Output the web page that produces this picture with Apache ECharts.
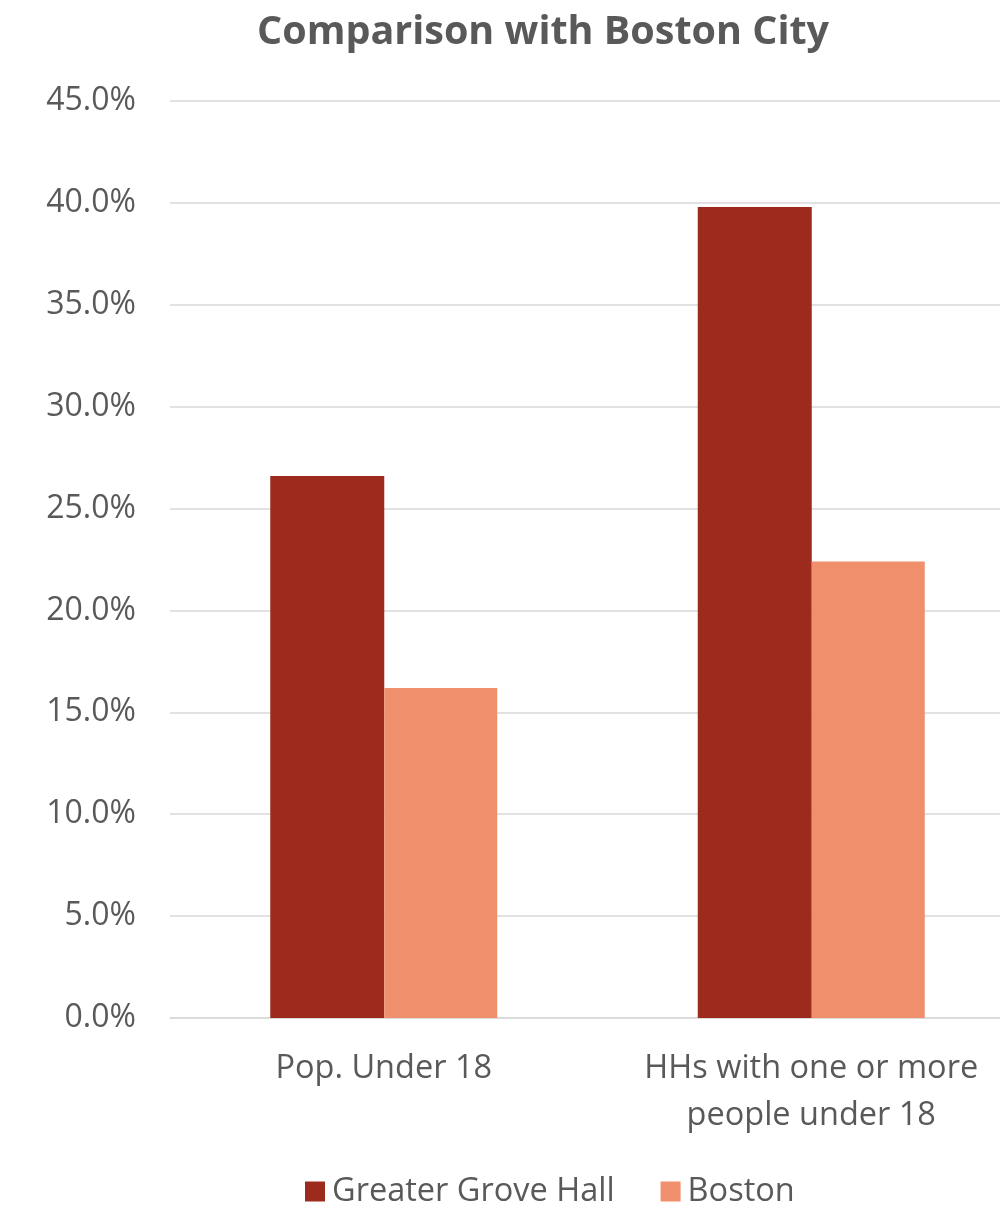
<!DOCTYPE html>
<html>
<head>
<meta charset="utf-8">
<script src="https://cdn.jsdelivr.net/npm/echarts@6/dist/echarts.min.js"></script>
<style>
  html, body { margin: 0; padding: 0; background: #ffffff; }
  #chart { width: 1000px; height: 1208px; }
</style>
</head>
<body>
<div id="chart"></div>
<script>
// Share of population / households with children
const categories = ['Pop. Under 18', 'HHs with one or more\npeople under 18'];
const groveHall = [26.6, 39.8];
const boston = [16.2, 22.4];
const yTicks = { min: 0, max: 45, interval: 5 };

const FONT = '"Open Sans", "DejaVu Sans", sans-serif';
const TEXT = '#595959';

const chart = echarts.init(document.getElementById('chart'));
chart.setOption({
  backgroundColor: '#ffffff',
  animation: false,
  title: {
    text: 'Comparison with Boston City',
    left: 252,
    top: 8,
    textStyle: { fontFamily: FONT, fontSize: 39.5, fontWeight: 'bold', color: TEXT }
  },
  // plot area runs past the right edge of the canvas
  grid: {
    left: 170, width: 855, top: 101, bottom: 190,
    containLabel: false, outerBoundsMode: 'none'
  },
  legend: {
    left: 300,
    top: 1170,
    itemWidth: 20,
    itemHeight: 20,
    itemGap: 46,
    icon: 'rect',
    textStyle: { fontFamily: FONT, fontSize: 32.5, color: TEXT, padding: [0, 0, 0, 2] },
    data: ['Greater Grove Hall', 'Boston']
  },
  xAxis: {
    type: 'category',
    data: categories,
    axisLine: { show: true, lineStyle: { color: '#d9d9d9', width: 1.5 } },
    axisTick: { show: false },
    axisLabel: {
      interval: 0,
      fontFamily: FONT, fontSize: 32.5, color: TEXT,
      margin: 27, lineHeight: 47, align: 'center'
    }
  },
  yAxis: {
    type: 'value',
    min: yTicks.min,
    max: yTicks.max,
    interval: yTicks.interval,
    axisLine: { show: false },
    axisTick: { show: false },
    splitLine: { lineStyle: { color: '#d9d9d9', width: 1.5 } },
    axisLabel: {
      fontFamily: FONT, fontSize: 32, color: TEXT, margin: 34,
      formatter: v => v.toFixed(1) + '%'
    }
  },
  series: [
    {
      name: 'Greater Grove Hall',
      type: 'bar',
      data: groveHall,
      barWidth: 114,
      barGap: '0%',
      itemStyle: { color: '#9c2b1e' }
    },
    {
      name: 'Boston',
      type: 'bar',
      data: boston,
      barWidth: 113,
      barGap: '0%',
      itemStyle: { color: '#ef8f6c' }
    }
  ]
});
</script>
</body>
</html>
